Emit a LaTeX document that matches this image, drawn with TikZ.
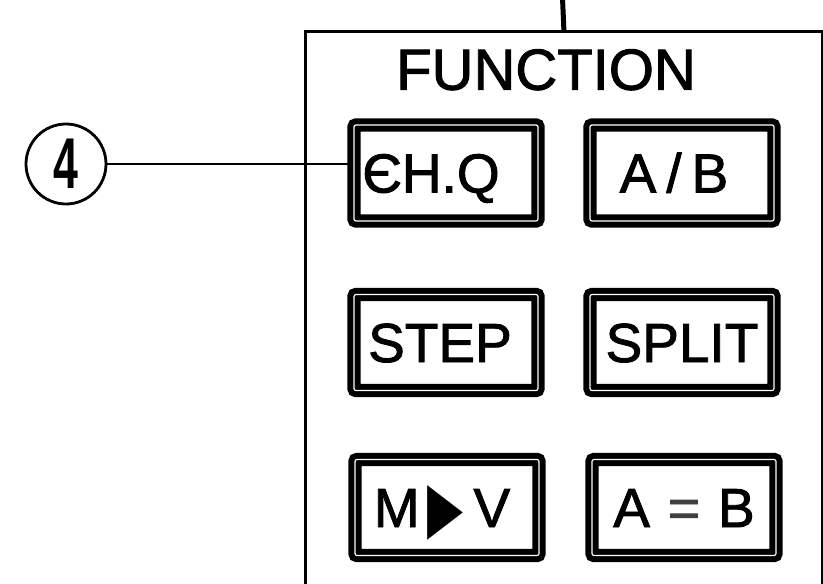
\documentclass[tikz,border=0pt]{standalone}
\usepackage{fontspec}
\setmainfont{Liberation Sans}
\newfontfamily\lbl[FakeBold=1.6]{Liberation Sans}
\newfontfamily\dejavu{DejaVu Sans}
\usepackage{graphicx}
\begin{document}
\begin{tikzpicture}[x=1pt,y=-1pt,
  btn/.style={draw, line width=6pt, double=white, double distance=1.2pt,
    fill=white, rounded corners=2pt, minimum width=184pt, minimum height=96pt,
    inner sep=0pt, text height=39pt, text depth=0pt,
    font=\lbl\fontsize{55}{55}\selectfont},
  frame/.style={draw, line width=2.8pt},
  conn/.style={line width=2.6pt}]
\useasboundingbox (0,0) rectangle (823,584);
\clip (0,0) rectangle (823,584);
% panel
\node[frame, minimum width=517pt, minimum height=600pt, anchor=north west, inner sep=0pt] (panel) at (304,30) {};
\coordinate (tick) at (562.5,-2);
\draw[line width=5pt] (panel.north) -- (tick);
\node[font=\lbl\fontsize{58}{58}\selectfont, text height=41.5pt, text depth=0pt, inner sep=0pt] (title) at (546,69) {FUNCTION};
% buttons
\node[btn] (chq)   at (446,173)   {\hspace*{-30pt}ЄH.Q};
\node[btn] (ab)    at (682,173)   {\hspace*{-16pt}A\hspace{10pt}/\hspace{10pt}B};
\node[btn] (stepb) at (446,342.5) {\hspace*{-12pt}STEP};
\node[btn] (split) at (682,342.5) {SPLIT};
\node[btn] (mv)    at (447,507.5) {\hspace*{-10pt}M\hspace{8pt}{\dejavu\raisebox{-4pt}{\scalebox{0.85}[1.3]{▶}}}\hspace{10pt}V};
\node[btn] (aeqb)  at (684,507.5) {A\hspace{18pt}{\color{black!75}=}\hspace{18pt}B};
% callout
\node[circle, draw, line width=2.8pt, minimum size=80pt, inner sep=0pt] (c4) at (66,164)
  {\scalebox{0.62}[1]{\fontsize{72}{72}\selectfont\bfseries 4}};
\draw[conn] (c4.east) -- (c4.east -| chq.west);
\end{tikzpicture}
\end{document}
